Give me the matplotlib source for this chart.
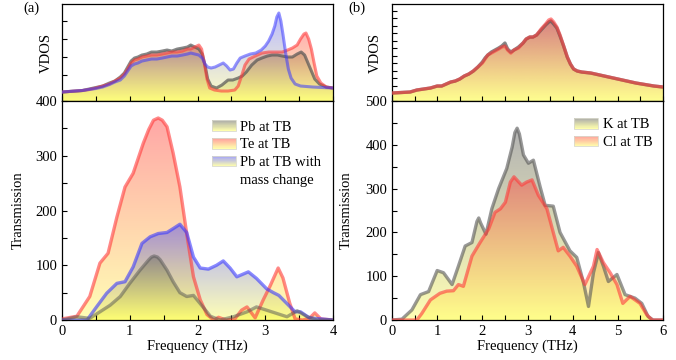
import numpy as np
import matplotlib
matplotlib.use('Agg')
import matplotlib.pyplot as plt
from matplotlib.colors import to_rgb
from matplotlib.patches import Rectangle, Patch
from matplotlib.legend_handler import HandlerBase
from matplotlib.ticker import MultipleLocator

plt.rcParams['font.family'] = 'Liberation Serif'
plt.rcParams['font.size'] = 10.5

# ---- (a) VDOS, PbTe (arbitrary units) ----
fa_pb = [0, 0.1, 0.2, 0.3, 0.4, 0.5, 0.6, 0.7, 0.78, 0.86, 0.92, 0.97, 1.02, 1.07, 1.12, 1.18,
         1.25, 1.32, 1.4, 1.48, 1.55, 1.62, 1.7, 1.78, 1.85, 1.9, 1.96, 2.02, 2.07, 2.11, 2.15, 2.2,
         2.28, 2.36, 2.45, 2.52, 2.6, 2.66, 2.72, 2.8, 2.88, 2.95, 3.03, 3.1, 3.18, 3.25, 3.33, 3.4,
         3.47, 3.53, 3.58, 3.63, 3.68, 3.73, 3.8, 3.9, 4.0]
va_pb = [9, 9.5, 10, 10.5, 12, 13.5, 15, 18, 20, 24, 28, 34, 40, 43, 44, 46,
         47, 49, 49, 50, 51, 50, 52, 53, 54, 56, 54, 52, 47, 36, 22, 15,
         13, 16, 21, 21, 23, 25, 29, 36, 41, 43, 45, 46, 46, 45, 44, 44,
         47, 49, 46, 38, 30, 22, 17, 14, 13]
fa_te = [0, 0.1, 0.2, 0.3, 0.4, 0.5, 0.6, 0.7, 0.78, 0.86, 0.92, 0.97, 1.02, 1.07, 1.12, 1.18,
         1.25, 1.32, 1.4, 1.48, 1.55, 1.62, 1.7, 1.78, 1.85, 1.9, 1.96, 2.02, 2.06, 2.1, 2.14, 2.18,
         2.25, 2.35, 2.45, 2.55, 2.6, 2.65, 2.7, 2.76, 2.85, 2.95, 3.05, 3.15, 3.25, 3.33, 3.4, 3.47,
         3.52, 3.57, 3.6, 3.64, 3.68, 3.72, 3.76, 3.82, 3.9, 4.0]
va_te = [9, 9.5, 10, 10.5, 11.5, 13, 15, 17, 20, 23, 27, 32, 38, 41, 42, 44,
         45, 46, 46, 47, 48, 49, 49, 50, 52, 52, 54, 56, 52, 38, 22, 13,
         11, 10, 10, 11, 15, 25, 36, 42, 45, 48, 49, 49, 49, 51, 53, 56,
         62, 67, 68, 62, 52, 38, 25, 18, 14, 13]
fa_pbm = [0, 0.1, 0.2, 0.3, 0.4, 0.5, 0.6, 0.7, 0.78, 0.86, 0.92, 0.97, 1.02, 1.07, 1.12, 1.18,
          1.25, 1.32, 1.4, 1.48, 1.55, 1.62, 1.7, 1.78, 1.85, 1.9, 1.96, 2.02, 2.07, 2.11, 2.15, 2.2,
          2.26, 2.32, 2.38, 2.43, 2.48, 2.53, 2.58, 2.63, 2.7, 2.78, 2.86, 2.94, 3.0, 3.05, 3.1, 3.14,
          3.17, 3.2, 3.23, 3.26, 3.3, 3.34, 3.38, 3.44, 3.52, 3.7, 4.0]
va_pbm = [9, 9.5, 10, 10.5, 11.5, 12.5, 14, 16.5, 19, 21, 25, 30, 35, 37, 38, 40,
          41, 42, 42, 43, 44, 45, 45, 46, 47, 48, 47, 46, 43, 37, 34, 33,
          34, 36, 38, 35, 31, 32, 38, 43, 45, 47, 48, 51, 55, 60, 67, 75,
          84, 88, 80, 67, 48, 32, 23, 17, 15, 14, 13]

# ---- (a) Transmission ----
ta_pb_f = [0, 0.22, 0.41, 0.56, 0.71, 0.86, 1.0, 1.15, 1.28, 1.32, 1.36, 1.41, 1.45, 1.55, 1.64,
           1.74, 1.84, 1.94, 2.04, 2.19, 2.33, 2.53, 2.73, 2.87, 3.02, 3.17, 3.32, 3.47, 3.62, 3.76, 4.0]
ta_pb = [0, 6, 3, 15, 27, 43, 67, 91, 110, 115, 117, 115, 110, 91, 70,
         50, 43, 45, 30, 7, 0, 6, 15, 24, 18, 12, 6, 17, 6, 0, 0]
ta_te_f = [0, 0.22, 0.41, 0.56, 0.68, 0.81, 0.93, 1.05, 1.2, 1.28, 1.35, 1.42, 1.48, 1.55, 1.64,
           1.74, 1.84, 1.94, 2.04, 2.14, 2.24, 2.31, 2.42, 2.55, 2.65, 2.73, 2.79, 2.85, 2.97, 3.07,
           3.19, 3.26, 3.36, 3.44, 3.55, 3.65, 3.73, 3.82, 4.0]
ta_te = [2, 7, 43, 104, 122, 188, 243, 268, 323, 348, 365, 369, 365, 353, 305,
         243, 158, 79, 37, 10, 0, 5, 0, 2, 18, 24, 14, 4, 37, 62,
         95, 77, 31, 2, 0, 3, 13, 2, 0]
ta_pbm_f = [0, 0.37, 0.51, 0.66, 0.81, 0.93, 1.05, 1.18, 1.30, 1.42, 1.55, 1.64, 1.74, 1.84, 1.94,
            2.04, 2.16, 2.28, 2.38, 2.48, 2.58, 2.75, 2.87, 3.02, 3.12, 3.2, 3.32, 3.44, 3.52, 3.65, 4.0]
ta_pbm = [0, 0, 24, 49, 67, 70, 97, 140, 152, 158, 160, 167, 175, 160, 115,
          95, 93, 100, 108, 95, 79, 88, 76, 57, 50, 45, 30, 15, 15, 4, 0]

# ---- (b) VDOS, KCl (arbitrary units) ----
fb = [0, 0.2, 0.4, 0.55, 0.7, 0.85, 1.0, 1.1, 1.2, 1.3, 1.4, 1.5, 1.6, 1.7, 1.8, 1.9,
      2.0, 2.06, 2.12, 2.2, 2.28, 2.36, 2.43, 2.5, 2.56, 2.63, 2.7, 2.8, 2.9, 2.97, 3.05, 3.12,
      3.2, 3.3, 3.4, 3.47, 3.52, 3.58, 3.65, 3.72, 3.8, 3.88, 3.95, 4.02, 4.1, 4.2, 4.4, 4.6,
      4.8, 5.0, 5.2, 5.4, 5.6, 5.8, 6.0]
vb_k = [8, 8.5, 9, 11, 12, 13, 15, 15, 17, 19, 20, 22, 25, 27, 30, 34,
        39, 43, 46, 49, 51, 53, 55, 58, 52, 49, 51, 54, 58, 62, 64, 64,
        66, 71, 76, 79, 80, 77, 73, 65, 55, 44, 37, 32, 30, 29, 28, 26,
        24, 22, 20, 18, 16.5, 15, 14]
vb_cl = [8, 8.5, 9, 11, 12, 13, 15, 15, 17, 19, 20, 22, 25, 27, 30, 34,
         38, 42, 46, 48, 50, 52, 54, 55, 51, 48, 51, 53, 58, 62, 64, 64,
         66, 72, 77, 81, 82, 79, 74, 66, 55, 44, 37, 32, 30, 29, 28, 26,
         24, 22, 20, 18, 16.5, 15, 14]

# ---- (b) Transmission ----
tb_k_f = [0, 0.22, 0.44, 0.63, 0.81, 1.0, 1.14, 1.33, 1.47, 1.62, 1.77, 1.88, 1.92, 1.96, 2.08,
          2.21, 2.36, 2.54, 2.66, 2.72, 2.77, 2.82, 2.91, 3.02, 3.13, 3.28, 3.39, 3.57, 3.72, 3.94,
          4.09, 4.24, 4.35, 4.46, 4.57, 4.68, 4.79, 4.98, 5.16, 5.38, 5.53, 5.67, 5.78, 6.0]
tb_k = [0, 2, 23, 58, 65, 113, 108, 81, 123, 169, 177, 225, 233, 222, 196,
        254, 300, 346, 395, 428, 438, 425, 377, 358, 365, 304, 262, 260, 200, 158,
        143, 85, 31, 108, 154, 123, 88, 104, 58, 50, 38, 8, 0, 0]
tb_cl_f = [0, 0.55, 0.66, 0.85, 1.06, 1.21, 1.36, 1.47, 1.58, 1.77, 1.95, 2.14, 2.28, 2.4, 2.51,
           2.62, 2.7, 2.87, 2.98, 3.1, 3.24, 3.43, 3.57, 3.68, 3.79, 3.94, 4.09, 4.27, 4.46, 4.54,
           4.68, 4.83, 4.98, 5.11, 5.27, 5.49, 5.64, 5.76, 6.0]
tb_cl = [0, 0, 15, 46, 61, 66, 67, 81, 77, 146, 177, 208, 246, 254, 269,
         315, 327, 308, 315, 320, 285, 254, 200, 158, 166, 146, 123, 81, 123, 161,
         131, 108, 81, 38, 54, 38, 12, 0, 0]

YELLOW = np.array([1.0, 1.0, 0.35])
C_GRAY = '#555555'
C_RED = '#ff3a3a'
C_BLUE = '#3a3aff'


def grad_fill(ax, x, y, color, alpha=0.5, z=1):
    x = np.asarray(x, float)
    y = np.asarray(y, float)
    poly = ax.fill_between(x, y, 0, facecolor='none', edgecolor='none')
    t = np.linspace(0, 1, 256)[:, None]
    rgb = YELLOW * (1 - t) + np.array(to_rgb(color)) * t
    img = np.concatenate([rgb, np.full((256, 1), alpha)], axis=1)[:, None, :]
    im = ax.imshow(img, extent=[x.min(), x.max(), 0, y.max()], origin='lower',
                   aspect='auto', zorder=z, interpolation='bilinear')
    im.set_clip_path(poly.get_paths()[0], transform=ax.transData)


def curve(ax, x, y, color, lw=2.2, alpha=0.6, z=3):
    ax.plot(x, y, color=color, lw=lw, alpha=alpha, zorder=z,
            solid_joinstyle='round', solid_capstyle='round')


class GradHandler(HandlerBase):
    def __init__(self, color, alpha=0.5):
        super().__init__()
        self.color = np.array(to_rgb(color))
        self.alpha = alpha

    def create_artists(self, legend, orig_handle, xdescent, ydescent, width, height, fontsize, trans):
        arts = []
        n = 20
        for i in range(n):
            t = (i + 0.5) / n
            c = YELLOW * (1 - t) + self.color * t
            c = 1 - self.alpha + c * self.alpha
            arts.append(Rectangle((-xdescent, -ydescent + height * i / n), width, height / n * 1.05,
                                  facecolor=c, edgecolor='none', transform=trans))
        arts.append(Rectangle((-xdescent, -ydescent), width, height, facecolor='none',
                              edgecolor=(0.85, 0.85, 0.8), lw=0.6, transform=trans))
        return arts


class BlankHandler(HandlerBase):
    def create_artists(self, legend, orig_handle, xdescent, ydescent, width, height, fontsize, trans):
        return [Rectangle((-xdescent, -ydescent), width, height, visible=False, transform=trans)]


def style(ax, xmax):
    ax.set_xlim(0, xmax)
    ax.xaxis.set_major_locator(MultipleLocator(1))
    ax.xaxis.set_minor_locator(MultipleLocator(0.5))
    ax.tick_params(which='both', direction='in', length=3.5, width=0.8)
    for s in ax.spines.values():
        s.set_linewidth(0.9)


fig = plt.figure(figsize=(6.76, 3.6), dpi=100)
ax_a1 = fig.add_axes([0.0917, 0.7194, 0.401, 0.2694])
ax_a2 = fig.add_axes([0.0917, 0.111, 0.401, 0.6083])
ax_b1 = fig.add_axes([0.5799, 0.7194, 0.4009, 0.2694])
ax_b2 = fig.add_axes([0.5799, 0.111, 0.4009, 0.6083])

# (a) VDOS
grad_fill(ax_a1, fa_pb, va_pb, C_GRAY, 0.45, 1)
grad_fill(ax_a1, fa_te, va_te, C_RED, 0.4, 1.1)
grad_fill(ax_a1, fa_pbm, va_pbm, C_BLUE, 0.35, 1.2)
curve(ax_a1, fa_pb, va_pb, C_GRAY, 2.2, 0.7, 3)
curve(ax_a1, fa_te, va_te, C_RED, 2.2, 0.6, 3.1)
curve(ax_a1, fa_pbm, va_pbm, C_BLUE, 2.2, 0.55, 3.2)
style(ax_a1, 4)
ax_a1.set_ylim(0, 97)
ax_a1.set_yticks([26, 44, 62, 80])
ax_a1.set_xticklabels([])
ax_a1.set_yticklabels([])
ax_a1.set_ylabel('VDOS')
ax_a1.yaxis.set_label_coords(-0.033, 0.5)

# (a) Transmission
grad_fill(ax_a2, ta_te_f, ta_te, C_RED, 0.45, 1)
grad_fill(ax_a2, ta_pbm_f, ta_pbm, C_BLUE, 0.45, 1.1)
grad_fill(ax_a2, ta_pb_f, ta_pb, C_GRAY, 0.45, 1.2)
curve(ax_a2, ta_te_f, ta_te, C_RED, 2.4, 0.6, 3)
curve(ax_a2, ta_pbm_f, ta_pbm, C_BLUE, 2.4, 0.6, 3.1)
curve(ax_a2, ta_pb_f, ta_pb, C_GRAY, 2.4, 0.5, 3.2)
style(ax_a2, 4)
ax_a2.set_ylim(0, 400)
ax_a2.yaxis.set_major_locator(MultipleLocator(100))
ax_a2.yaxis.set_minor_locator(MultipleLocator(50))
ax_a2.set_xlabel('Frequency (THz)', labelpad=1)
ax_a2.set_ylabel('Transmission')
ax_a2.yaxis.set_label_coords(-0.137, 0.5)
h = [Patch(), Patch(), Patch(), Patch()]
ax_a2.legend(h, ['Pb at TB', 'Te at TB', 'Pb at TB with', 'mass change'],
             handler_map={h[0]: GradHandler(C_GRAY), h[1]: GradHandler(C_RED),
                          h[2]: GradHandler(C_BLUE), h[3]: BlankHandler()},
             loc='upper left', bbox_to_anchor=(0.553, 0.913), frameon=False,
             borderpad=0, borderaxespad=0, handlelength=1.65, handleheight=0.75,
             handletextpad=0.3, labelspacing=0.3)

# (b) VDOS
grad_fill(ax_b1, fb, vb_k, C_GRAY, 0.4, 1)
grad_fill(ax_b1, fb, vb_cl, C_RED, 0.45, 1.1)
curve(ax_b1, fb, vb_k, C_GRAY, 2.4, 0.7, 3)
curve(ax_b1, fb, vb_cl, C_RED, 2.4, 0.6, 3.1)
style(ax_b1, 6)
ax_b1.set_ylim(0, 97)
ax_b1.set_yticks(np.arange(15.5, 97, 7.5))
ax_b1.set_xticklabels([])
ax_b1.set_yticklabels([])
ax_b1.set_ylabel('VDOS')
ax_b1.yaxis.set_label_coords(-0.037, 0.5)

# (b) Transmission
grad_fill(ax_b2, tb_k_f, tb_k, C_GRAY, 0.45, 1)
grad_fill(ax_b2, tb_cl_f, tb_cl, C_RED, 0.45, 1.1)
curve(ax_b2, tb_k_f, tb_k, C_GRAY, 2.4, 0.6, 3)
curve(ax_b2, tb_cl_f, tb_cl, C_RED, 2.4, 0.6, 3.1)
style(ax_b2, 6)
ax_b2.set_ylim(0, 500)
ax_b2.yaxis.set_major_locator(MultipleLocator(100))
ax_b2.yaxis.set_minor_locator(MultipleLocator(50))
ax_b2.set_xlabel('Frequency (THz)', labelpad=1)
ax_b2.set_ylabel('Transmission')
ax_b2.yaxis.set_label_coords(-0.144, 0.5)
h2 = [Patch(), Patch()]
ax_b2.legend(h2, ['K at TB', 'Cl at TB'],
             handler_map={h2[0]: GradHandler(C_GRAY), h2[1]: GradHandler(C_RED)},
             loc='upper left', bbox_to_anchor=(0.672, 0.923), frameon=False,
             borderpad=0, borderaxespad=0, handlelength=1.65, handleheight=0.75,
             handletextpad=0.3, labelspacing=0.3)

fig.text(0.034, 0.978, '(a)', va='center', ha='left')
fig.text(0.515, 0.978, '(b)', va='center', ha='left')

fig.savefig('out.png', dpi=100)
